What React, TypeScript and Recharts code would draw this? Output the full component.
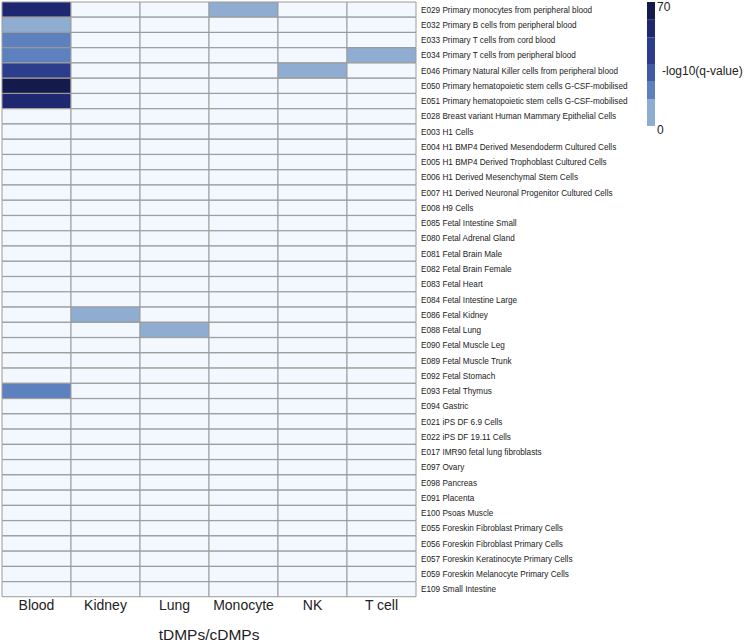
import { BarChart, Bar, XAxis, YAxis, Cell } from 'recharts';

const COLUMNS = ['Blood', 'Kidney', 'Lung', 'Monocyte', 'NK', 'T cell'];

const ROWS = [
  'E029 Primary monocytes from peripheral blood',
  'E032 Primary B cells from peripheral blood',
  'E033 Primary T cells from cord blood',
  'E034 Primary T cells from peripheral blood',
  'E046 Primary Natural Killer cells from peripheral blood',
  'E050 Primary hematopoietic stem cells G-CSF-mobilised',
  'E051 Primary hematopoietic stem cells G-CSF-mobilised',
  'E028 Breast variant Human Mammary Epithelial Cells',
  'E003 H1 Cells',
  'E004 H1 BMP4 Derived Mesendoderm Cultured Cells',
  'E005 H1 BMP4 Derived Trophoblast Cultured Cells',
  'E006 H1 Derived Mesenchymal Stem Cells',
  'E007 H1 Derived Neuronal Progenitor Cultured Cells',
  'E008 H9 Cells',
  'E085 Fetal Intestine Small',
  'E080 Fetal Adrenal Gland',
  'E081 Fetal Brain Male',
  'E082 Fetal Brain Female',
  'E083 Fetal Heart',
  'E084 Fetal Intestine Large',
  'E086 Fetal Kidney',
  'E088 Fetal Lung',
  'E090 Fetal Muscle Leg',
  'E089 Fetal Muscle Trunk',
  'E092 Fetal Stomach',
  'E093 Fetal Thymus',
  'E094 Gastric',
  'E021 iPS DF 6.9 Cells',
  'E022 iPS DF 19.11 Cells',
  'E017 IMR90 fetal lung fibroblasts',
  'E097 Ovary',
  'E098 Pancreas',
  'E091 Placenta',
  'E100 Psoas Muscle',
  'E055 Foreskin Fibroblast Primary Cells',
  'E056 Foreskin Fibroblast Primary Cells',
  'E057 Foreskin Keratinocyte Primary Cells',
  'E059 Foreskin Melanocyte Primary Cells',
  'E109 Small Intestine',
];

// -log10(q-value), one entry per row, 0 = not significant
const blood = [55, 10, 22, 21, 42, 66, 53, 0, 0, 0, 0, 0, 0, 0, 0, 0, 0, 0, 0, 0, 0, 0, 0, 0, 0, 19, 0, 0, 0, 0, 0, 0, 0, 0, 0, 0, 0, 0, 0];
const kidney = [0, 0, 0, 0, 0, 0, 0, 0, 0, 0, 0, 0, 0, 0, 0, 0, 0, 0, 0, 0, 8, 0, 0, 0, 0, 0, 0, 0, 0, 0, 0, 0, 0, 0, 0, 0, 0, 0, 0];
const lung = [0, 0, 0, 0, 0, 0, 0, 0, 0, 0, 0, 0, 0, 0, 0, 0, 0, 0, 0, 0, 0, 8, 0, 0, 0, 0, 0, 0, 0, 0, 0, 0, 0, 0, 0, 0, 0, 0, 0];
const monocyte = [9, 0, 0, 0, 0, 0, 0, 0, 0, 0, 0, 0, 0, 0, 0, 0, 0, 0, 0, 0, 0, 0, 0, 0, 0, 0, 0, 0, 0, 0, 0, 0, 0, 0, 0, 0, 0, 0, 0];
const nk = [0, 0, 0, 0, 9, 0, 0, 0, 0, 0, 0, 0, 0, 0, 0, 0, 0, 0, 0, 0, 0, 0, 0, 0, 0, 0, 0, 0, 0, 0, 0, 0, 0, 0, 0, 0, 0, 0, 0];
const tcell = [0, 0, 0, 9, 0, 0, 0, 0, 0, 0, 0, 0, 0, 0, 0, 0, 0, 0, 0, 0, 0, 0, 0, 0, 0, 0, 0, 0, 0, 0, 0, 0, 0, 0, 0, 0, 0, 0, 0];

const VALUES = [blood, kidney, lung, monocyte, nk, tcell];

// colour bins (lower bound, colour), light to dark
const BIN_EDGES = [0, 15, 25, 35, 50, 60, 70];
const BIN_COLORS = ['#8fadd1', '#5d80bf', '#3f5ba6', '#2c3d8d', '#1e2870', '#141a4b'];
const EMPTY = '#f3f7fe';
const LEGEND_MAX = 70;

const colorFor = (v: number) => {
  if (v <= 0) return EMPTY;
  for (let i = BIN_COLORS.length - 1; i >= 0; i--) {
    if (v >= BIN_EDGES[i]) return BIN_COLORS[i];
  }
  return BIN_COLORS[0];
};

const data = ROWS.map((name) => {
  const row: Record<string, string | number> = { name };
  COLUMNS.forEach((c) => (row[c] = 1));
  return row;
});

const FONT = '"Liberation Sans", Arial, Helvetica, sans-serif';

// single-line row label (the default tick wraps to the axis width)
const RowTick = ({ x, y, payload }: any) => (
  <text x={x} y={y} dy={3} fontSize={8.2} fill="#222" fontFamily={FONT} textAnchor="start">
    {payload.value}
  </text>
);

function ColorBar() {
  const top = 2;
  const h = 124;
  const px = (v: number) => top + h - (v / LEGEND_MAX) * h;
  return (
    <svg width={110} height={140} style={{ position: 'absolute', left: 640, top: 0 }}>
      {BIN_COLORS.map((c, i) => (
        <rect key={i} x={7} y={px(BIN_EDGES[i + 1])} width={8} height={px(BIN_EDGES[i]) - px(BIN_EDGES[i + 1])} fill={c} />
      ))}
      <text x={17} y={px(LEGEND_MAX) + 9} fontSize={12} fill="#222" fontFamily={FONT}>70</text>
      <text x={17} y={px(0) + 8} fontSize={12} fill="#222" fontFamily={FONT}>0</text>
      <text x={22} y={75} fontSize={12} fill="#222" fontFamily={FONT}>-log10(q-value)</text>
    </svg>
  );
}

export default function App() {
  return (
    <div style={{ position: 'absolute', left: 0, top: 0, width: 750, height: 643, fontFamily: FONT }}>
      <BarChart
        width={750}
        height={643}
        data={data}
        layout="vertical"
        barCategoryGap={0}
        margin={{ top: 2, right: 134, bottom: 0, left: 2 }}
      >
        <XAxis
          type="number"
          domain={[0, COLUMNS.length]}
          ticks={COLUMNS.map((_, i) => i + 0.5)}
          tickFormatter={(v) => COLUMNS[Math.floor(v)]}
          axisLine={false}
          tickLine={false}
          tickSize={0}
          tickMargin={3}
          height={46}
          tick={{ fontSize: 14, fill: '#222', fontFamily: FONT }}
          label={{ value: 'tDMPs/cDMPs', position: 'insideBottom', offset: 3, fontSize: 15.5, fill: '#222', fontFamily: FONT }}
        />
        <YAxis
          type="category"
          dataKey="name"
          orientation="right"
          width={200}
          interval={0}
          axisLine={false}
          tickLine={false}
          tickSize={0}
          tickMargin={5}
          tick={<RowTick />}
        />
        {COLUMNS.map((c, ci) => (
          <Bar key={c} dataKey={c} stackId="h" isAnimationActive={false} stroke="#9a9a9a" strokeWidth={1}>
            {ROWS.map((r, ri) => (
              <Cell key={r} fill={colorFor(VALUES[ci][ri])} />
            ))}
          </Bar>
        ))}
      </BarChart>
      <ColorBar />
    </div>
  );
}
